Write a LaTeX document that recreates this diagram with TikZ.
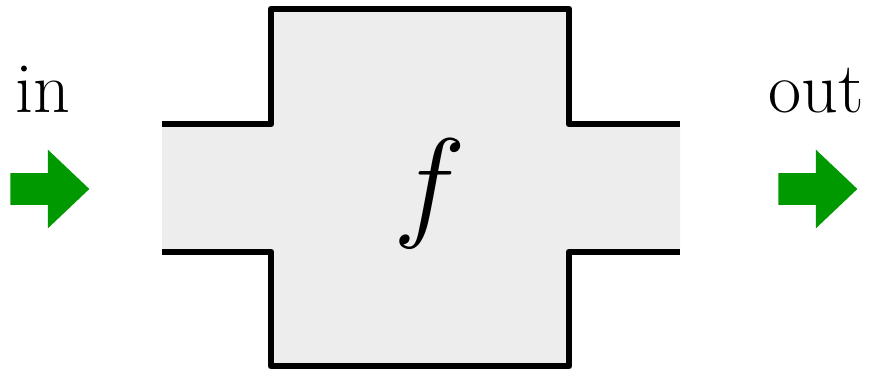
\RequirePackage{fix-cm}
\documentclass[tikz,border=0pt]{standalone}
\usepackage{xcolor}
\usepackage{tikz}
\usetikzlibrary{shapes,shapes.arrows,positioning,calc}
\definecolor{flowgreen}{RGB}{0,153,0}
\definecolor{boxgray}{RGB}{237,237,237}

\begin{document}
\begin{tikzpicture}[
    x=0.02cm,y=-0.02cm,
    port/.style={single arrow,fill=flowgreen,draw=none,inner xsep=0pt,inner ysep=0.31cm,
      minimum height=1.58cm,
      single arrow head extend=0.47cm,single arrow tip angle=87,anchor=tail},
    lbl/.style={font=\fontsize{41}{49}\selectfont,anchor=base,inner sep=0pt},
    wall/.style={line width=3.9pt,line join=round}
  ]
    \useasboundingbox (0,0) rectangle (871,374);
    % body of the function block
    \fill[boxgray] (162,124) -- (271,124) -- (271,9) -- (569,9) -- (569,124)
      -- (680,124) -- (680,252) -- (569,252) -- (569,366) -- (271,366)
      -- (271,252) -- (162,252) -- cycle;
    \draw[wall] (162,124) -- (271,124) -- (271,9) -- (569,9) -- (569,124) -- (680,124);
    \draw[wall] (162,252) -- (271,252) -- (271,366) -- (569,366) -- (569,252) -- (680,252);
    \node[font=\fontsize{70}{84}\selectfont,anchor=base,inner sep=0pt] (func) at (430,225) {$f$};
    % input and output
    \node[lbl] (inlbl) at (43,113) {in};
    \node[lbl] (outlbl) at (816,113) {out};
    \node[port] (inarrow) at (10,189) {};
    \node[port] (outarrow) at (778,189) {};
  \end{tikzpicture}
\end{document}
